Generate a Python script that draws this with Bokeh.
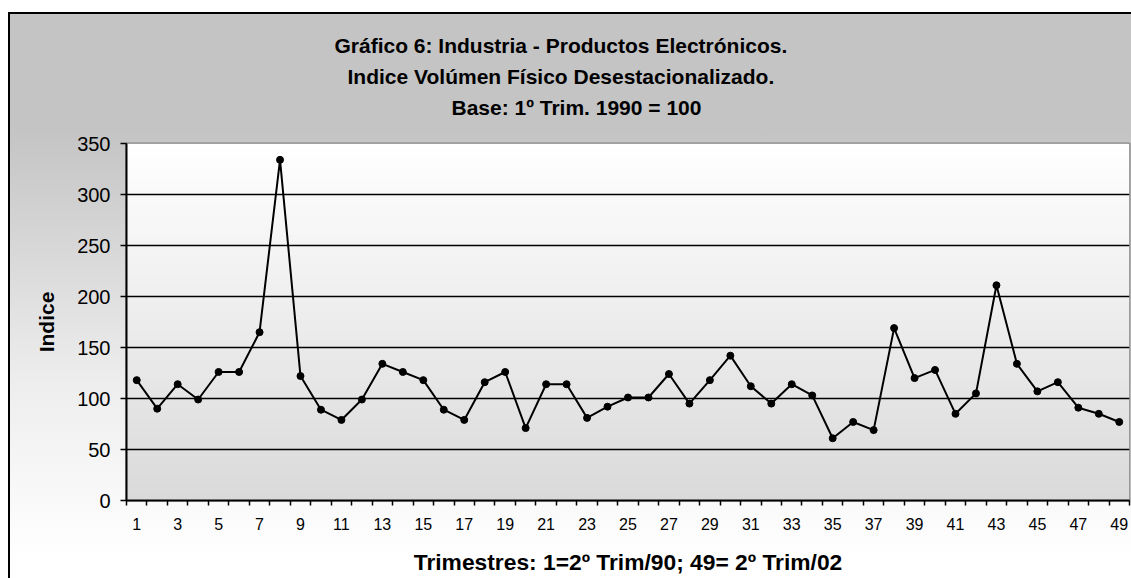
import numpy as np
from bokeh.plotting import figure
from bokeh.models import Range1d, FixedTicker, Title
from bokeh.embed import file_html
from bokeh.resources import INLINE

# ---- data ----
trimestre = list(range(1, 50))
indice = [118, 90, 114, 99, 126, 126, 165, 334, 122, 89, 79, 99, 134, 126, 118,
          89, 79, 116, 126, 71, 114, 114, 81, 92, 101, 101, 124, 95, 118, 142,
          112, 95, 114, 103, 61, 77, 69, 169, 120, 128, 85, 105, 211, 134, 107,
          116, 91, 85, 77]
x_tick_labels = [str(i) for i in range(1, 50, 2)]
y_ticks = [0, 50, 100, 150, 200, 250, 300, 350]
titulo = ["Gráfico 6: Industria - Productos Electrónicos.",
          "Indice Volúmen Físico Desestacionalizado.",
          "Base: 1º Trim. 1990 = 100"]
x_titulo = "Trimestres: 1=2º Trim/90; 49= 2º Trim/02"
y_titulo = "Indice"

FONT = "Liberation Sans"

p = figure(width=1131, height=578, output_backend="svg", toolbar_location=None,
           x_range=Range1d(0.5, 49.5), y_range=Range1d(0, 350),
           min_border_left=126, min_border_right=2, min_border_top=143,
           min_border_bottom=78)
p.border_fill_color = None
p.background_fill_color = None
p.outline_line_color = "#808080"
p.outline_line_width = 2
p.styles = {
    "background": ("linear-gradient(#000,#000) 8px 12px / 2px 100% no-repeat, "
                   "linear-gradient(#000,#000) 8px 12px / 100% 2px no-repeat, "
                   "linear-gradient(to bottom, #fff 0px, #fff 12px, #c4c4c4 12px, "
                   "#c4c4c4 130px, #ededed 380px, #ffffff 560px) 8px 0 / 100% 100% no-repeat")
}

# plot-area gradient (white top -> light gray bottom)
n = 256
img = np.empty((n, 1), dtype=np.uint32)
view = img.view(dtype=np.uint8).reshape((n, 1, 4))
for i in range(n):
    c = int(round(218 + (255 - 218) * i / (n - 1)))
    view[i, 0, 0] = c
    view[i, 0, 1] = c
    view[i, 0, 2] = c
    view[i, 0, 3] = 255
p.image_rgba(image=[img], x=0.5, y=0, dw=49, dh=350, level="image")

# grid
p.xgrid.visible = False
p.ygrid.ticker = FixedTicker(ticks=y_ticks[1:-1])
p.ygrid.grid_line_color = "black"
p.ygrid.grid_line_width = 1.5

# x axis
p.xaxis.ticker = FixedTicker(ticks=list(range(1, 50, 2)),
                             minor_ticks=[i + 0.5 for i in range(0, 50)])
p.xaxis.major_label_overrides = {i: s for i, s in zip(range(1, 50, 2), x_tick_labels)}
p.xaxis.major_tick_out = 0
p.xaxis.major_tick_in = 0
p.xaxis.minor_tick_out = 5
p.xaxis.minor_tick_in = 0
p.xaxis.minor_tick_line_color = "black"
p.xaxis.minor_tick_line_width = 1.5
p.xaxis.axis_line_color = "black"
p.xaxis.axis_line_width = 2
p.xaxis.major_label_text_font = FONT
p.xaxis.major_label_text_font_size = "16px"
p.xaxis.major_label_text_color = "black"
p.xaxis.major_label_standoff = 12
p.xaxis.axis_label = x_titulo
p.xaxis.axis_label_text_font = FONT
p.xaxis.axis_label_text_font_size = "22.8px"
p.xaxis.axis_label_text_font_style = "bold"
p.xaxis.axis_label_text_color = "black"
p.xaxis.axis_label_standoff = 16

# y axis
p.yaxis.ticker = FixedTicker(ticks=y_ticks)
p.yaxis.major_tick_out = 6
p.yaxis.major_tick_in = 0
p.yaxis.minor_tick_out = 0
p.yaxis.minor_tick_in = 0
p.yaxis.major_tick_line_color = "black"
p.yaxis.major_tick_line_width = 1.5
p.yaxis.axis_line_color = "black"
p.yaxis.axis_line_width = 2
p.yaxis.major_label_text_font = FONT
p.yaxis.major_label_text_font_size = "20px"
p.yaxis.major_label_text_color = "black"
p.yaxis.major_label_standoff = 10
p.yaxis.axis_label = y_titulo
p.yaxis.axis_label_text_font = FONT
p.yaxis.axis_label_text_font_size = "21px"
p.yaxis.axis_label_text_font_style = "bold"
p.yaxis.axis_label_text_color = "black"
p.yaxis.axis_label_standoff = 16

# series
p.line(trimestre, indice, line_color="black", line_width=2)
p.scatter(trimestre, indice, size=7, fill_color="black", line_color="black")

# title lines (first added = closest to the plot area)
p.add_layout(Title(text=" ", text_font_size="2px", standoff=17), "above")
title_offsets = [208, 221, 325]
for t, off in reversed(list(zip(titulo, title_offsets))):
    p.add_layout(Title(text=t, align="left", offset=off, vertical_align="middle",
                       standoff=6, text_font=FONT, text_font_size="21px",
                       text_font_style="bold", text_color="black"), "above")

open("out.html", "w").write(file_html(p, INLINE))
